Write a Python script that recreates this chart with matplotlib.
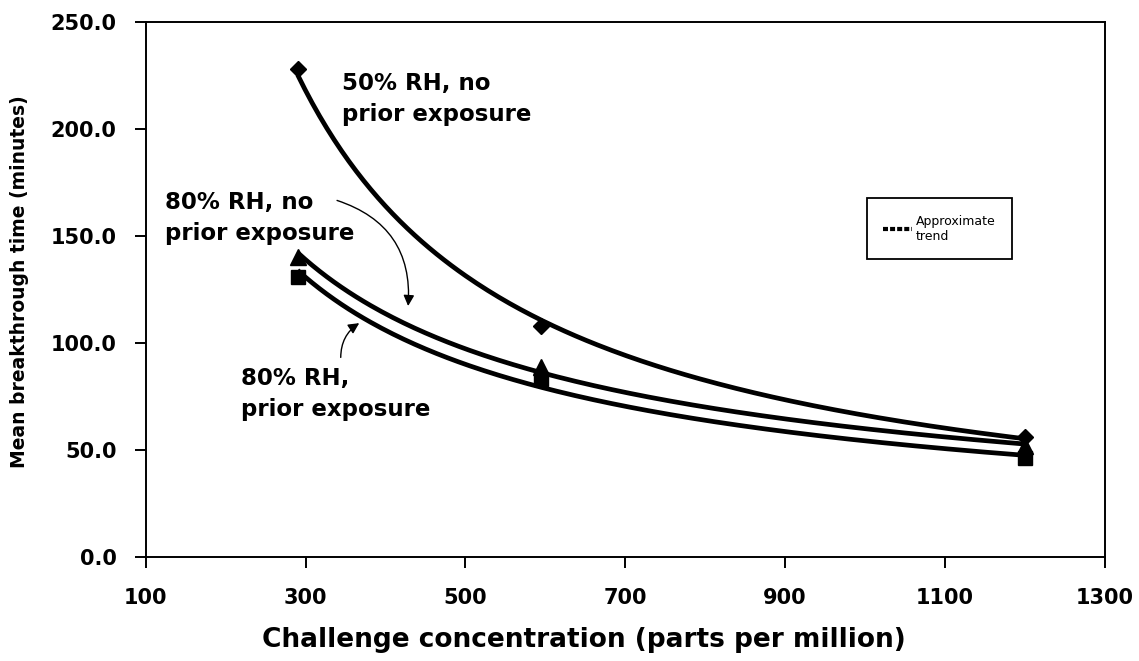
import numpy as np
import matplotlib
matplotlib.use('Agg')
import matplotlib.pyplot as plt
from matplotlib.lines import Line2D

# data
conc = [290, 595, 1200]
rh50_no_prior = [228, 108, 56]
rh80_no_prior = [140, 89, 52]
rh80_prior = [131, 83, 46.5]

x_ticks = [100, 300, 500, 700, 900, 1100, 1300]
y_ticks = [0, 50, 100, 150, 200, 250]


def power_trend(x, y):
    # Excel-style power trendline, least squares in log-log space
    b, log_a = np.polyfit(np.log(x), np.log(y), 1)
    xs = np.linspace(min(x), max(x), 200)
    return xs, np.exp(log_a) * xs ** b


plt.rcParams['font.family'] = ['DejaVu Sans']
plt.rcParams['font.weight'] = 'bold'

fig = plt.figure(figsize=(11.39, 6.61), dpi=100)
ax = fig.add_axes([0.128, 0.157, 0.842, 0.81])

trend_style = dict(color='black', linewidth=3.4, solid_capstyle='butt')
for y, marker, ms in [(rh50_no_prior, 'D', 8),
                      (rh80_no_prior, '^', 11),
                      (rh80_prior, 's', 10)]:
    xs, ys = power_trend(conc, y)
    ax.plot(xs, ys, **trend_style, zorder=2)
    ax.plot(conc, y, linestyle='none', marker=marker, markersize=ms,
            color='black', zorder=3)

# labels on the curves
label_kw = dict(fontsize=16.5, fontweight='bold', va='top', ha='left',
                linespacing=1.45)
ax.text(346, 226.5, '50% RH, no\nprior exposure', **label_kw)
ax.text(124, 171, '80% RH, no\nprior exposure', **label_kw)
ax.text(219, 89, '80% RH,\nprior exposure', **label_kw)

arrow_kw = dict(arrowstyle='-|>', color='black', lw=1.0, mutation_scale=16)
ax.annotate('', xy=(428, 116), xytext=(336, 167),
            arrowprops=dict(**arrow_kw, connectionstyle='arc3,rad=-0.4'))
ax.annotate('', xy=(370, 110), xytext=(344, 92),
            arrowprops=dict(**arrow_kw, connectionstyle='arc3,rad=-0.3'))

# legend
handle = Line2D([], [], color='black', linewidth=3, linestyle=(0, (1.2, 0.5)))
leg = ax.legend([handle], ['Approximate\ntrend'], loc='upper left',
                bbox_to_anchor=(0.752, 0.67), fancybox=False,
                edgecolor='black', framealpha=1, handlelength=2.3,
                handletextpad=0.3, borderpad=1.3, borderaxespad=0,
                prop=dict(size=9, weight='normal'))
leg.get_frame().set_linewidth(1.3)

# axes
ax.set_xlim(100, 1300)
ax.set_ylim(0, 250)
ax.set_xticks(x_ticks)
ax.set_yticks(y_ticks)
ax.set_yticklabels([f'{v:.1f}' for v in y_ticks])
ax.tick_params(direction='out', length=8, width=1.4, labelsize=15)
ax.tick_params(axis='x', pad=14)
ax.tick_params(axis='y', pad=13)
for s in ax.spines.values():
    s.set_linewidth(1.4)

ax.set_xlabel('Challenge concentration (parts per million)', fontsize=19,
              fontweight='bold', va='center')
ax.xaxis.set_label_coords(0.457, -0.155)
ax.set_ylabel('Mean breakthrough time (minutes)', fontsize=13.5,
              fontweight='bold')
ax.yaxis.set_label_coords(-0.122, 0.514)

fig.savefig('out.png', dpi=100)
